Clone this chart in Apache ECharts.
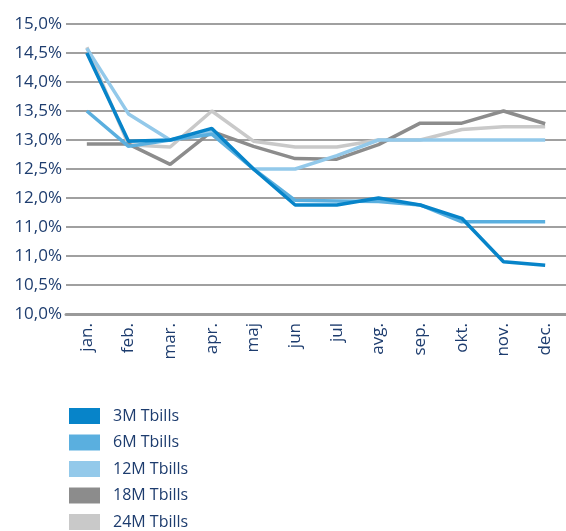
<!DOCTYPE html>
<html>
<head>
<meta charset="utf-8">
<script src="https://cdn.jsdelivr.net/npm/echarts@6/dist/echarts.min.js"></script>
<style>
    html, body { margin: 0; padding: 0; background: #fff; }
    #chart { width: 566px; height: 531px; }
</style>
</head>
<body>
<div id="chart"></div>
<script>
// mjeseci
let months = ['jan.', 'feb.', 'mar.', 'apr.', 'maj', 'jun', 'jul', 'avg.', 'sep.', 'okt.', 'nov.', 'dec.'];
// oznake na y osi (kao na slici, 11,0% dvaput)
let yTickLabels = ['10,0%', '10,5%', '11,0%', '11,0%', '12,0%', '12,5%', '13,0%', '13,5%', '14,0%', '14,5%', '15,0%'];

let t3m = [14.5, 12.98, 13.0, 13.2, 12.5, 11.88, 11.88, 12.0, 11.88, 11.65, 10.9, 10.84];
let t6m = [13.5, 12.89, 13.0, 13.1, 12.5, 11.96, 11.95, 11.94, 11.88, 11.59, 11.59, 11.59];
let t12m = [14.58, 13.45, 13.0, 13.15, 12.5, 12.5, 12.73, 13.0, 13.0, 13.0, 13.0, 13.0];
let t18m = [12.93, 12.93, 12.58, 13.15, 12.89, 12.68, 12.67, 12.92, 13.29, 13.29, 13.5, 13.28];
let t24m = [14.6, 12.92, 12.88, 13.5, 12.98, 12.88, 12.88, 13.0, 13.0, 13.18, 13.23, 13.23];

let names = ['3M Tbills', '6M Tbills', '12M Tbills', '18M Tbills', '24M Tbills'];
let colors = ['#0784c9', '#5aafdf', '#93c9ea', '#8c8c8c', '#c9c9c9'];

(function () {
    let myChart = echarts.init(document.getElementById('chart'));
    let txt = '#1d3c6e';
    let font = '"Open Sans", "Noto Sans", sans-serif';

    function line(name, data, idx) {
        return {
            name: name,
            type: 'line',
            data: data,
            symbol: 'none',
            color: colors[idx],
            lineStyle: { width: 3.5, color: colors[idx] },
            z: 10 - idx
        };
    }

    let option = {
        animation: false,
        grid: {
            left: 66,
            right: -6,
            top: 24,
            bottom: 217
        },
        legend: {
            orient: 'vertical',
            left: 69,
            top: 408,
            height: 123,
            padding: 0,
            icon: 'rect',
            itemWidth: 31,
            itemHeight: 16,
            itemGap: 10.5,
            data: names,
            textStyle: { color: txt, fontSize: 16, fontFamily: font, padding: [0, 0, 0, 8] }
        },
        xAxis: {
            type: 'category',
            data: months,
            boundaryGap: true,
            axisTick: { show: false },
            axisLine: { lineStyle: { color: '#9a9a9a', width: 3 } },
            axisLabel: {
                rotate: 90,
                margin: 9,
                color: txt,
                fontSize: 17,
                fontFamily: font
            }
        },
        yAxis: {
            type: 'value',
            min: 10,
            max: 15,
            interval: 0.5,
            axisLine: { show: false },
            axisTick: { show: false },
            axisLabel: {
                margin: 4,
                color: txt,
                fontSize: 17,
                fontFamily: font,
                formatter: function (v) {
                    return yTickLabels[Math.round((v - 10) / 0.5)];
                }
            },
            splitLine: { lineStyle: { color: '#a0a0a0', width: 2 } }
        },
        series: [
            line(names[4], t24m, 4),
            line(names[3], t18m, 3),
            line(names[2], t12m, 2),
            line(names[1], t6m, 1),
            line(names[0], t3m, 0)
        ]
    };
    myChart.setOption(option);
    window.addEventListener('resize', function () {
        myChart.resize();
    })
})();
</script>
</body>
</html>
